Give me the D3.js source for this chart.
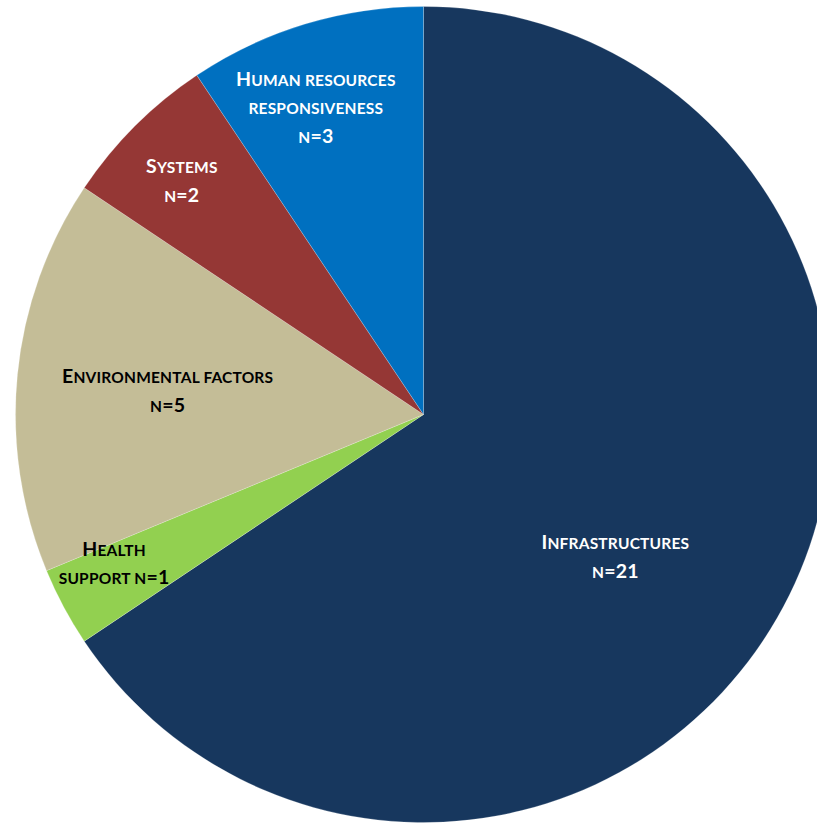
<!DOCTYPE html>
<html>
<head>
<meta charset="utf-8">
<script src="https://cdn.jsdelivr.net/npm/d3@7"></script>
<style>
  html, body { margin: 0; padding: 0; background: #fff; overflow: hidden; }
  svg { display: block; }
  .lbl { font-family: Lato, "Open Sans", sans-serif; font-weight: 700; font-size: 19.5px; letter-spacing: 0.2px; }
  .lbl .sc { font-size: 15.5px; }
</style>
</head>
<body>
<svg id="chart" width="817" height="823"></svg>
<script>
// Categories in clockwise order starting at 12 o'clock
const categories = ["Infrastructures", "Health support", "Environmental factors", "Systems", "Human resources responsiveness"];
const counts = [21, 1, 5, 2, 3];
const colors = ["#17375E", "#92D050", "#C4BD97", "#953735", "#0070C0"];
const textColors = ["#ffffff", "#000000", "#000000", "#ffffff", "#ffffff"];
// Label lines per category
const labelLines = [
  ["Infrastructures", "n=21"],
  ["Health", "support n=1"],
  ["Environmental factors", "n=5"],
  ["Systems", "n=2"],
  ["Human resources", "responsiveness", "n=3"]
];

const svg = d3.select("#chart");
const cx = 423.5, cy = 414.5, R = 408;

const data = categories.map((c, i) => ({ name: c, value: counts[i], color: colors[i], text: textColors[i], lines: labelLines[i] }));

const pie = d3.pie().value(d => d.value).sort(null);
const arc = d3.arc().innerRadius(0).outerRadius(R);
const arcs = pie(data);

const g = svg.append("g").attr("transform", `translate(${cx},${cy})`);

g.selectAll("path.slice")
  .data(arcs)
  .enter().append("path")
  .attr("class", "slice")
  .attr("d", arc)
  .attr("fill", d => d.data.color)
  .attr("stroke", "rgba(255,255,255,0.35)")
  .attr("stroke-width", 0.6);

// Label anchor: polar position (degrees clockwise from top, fraction of R)
const labelPlacement = {
  "Infrastructures": { a: 126.5, r: 0.585 },
  "Health support": { a: 244.4, r: 0.841 },
  "Environmental factors": { a: 275.4, r: 0.63 },
  "Systems": { a: 314.1, r: 0.825 },
  "Human resources responsiveness": { a: 340.7, r: 0.7985 }
};
const lineH = 28.5;

// Split a string into runs: lowercase letters become small capitals
function smallCapRuns(s) {
  const runs = [];
  for (const ch of s) {
    const lower = ch !== ch.toUpperCase();
    const sc = lower || (ch === " " && runs.length && runs[runs.length - 1].sc);
    const last = runs[runs.length - 1];
    if (last && last.sc === sc) last.t += ch;
    else runs.push({ t: ch, sc });
  }
  return runs;
}

arcs.forEach(d => {
  const p = labelPlacement[d.data.name];
  const ang = p.a * Math.PI / 180;
  const lx = Math.sin(ang) * p.r * R;
  const ly = -Math.cos(ang) * p.r * R;
  const n = d.data.lines.length;
  const t = g.append("text")
    .attr("class", "lbl")
    .attr("text-anchor", "middle")
    .attr("fill", d.data.text);
  d.data.lines.forEach((line, i) => {
    smallCapRuns(line).forEach((run, j) => {
      const ts = t.append("tspan")
        .attr("class", run.sc ? "sc" : null)
        .text(run.sc ? run.t.toUpperCase() : run.t);
      if (j === 0) {
        ts.attr("x", lx).attr("y", ly + (i - (n - 1) / 2) * lineH + 7);
      }
    });
  });
});
</script>
</body>
</html>
